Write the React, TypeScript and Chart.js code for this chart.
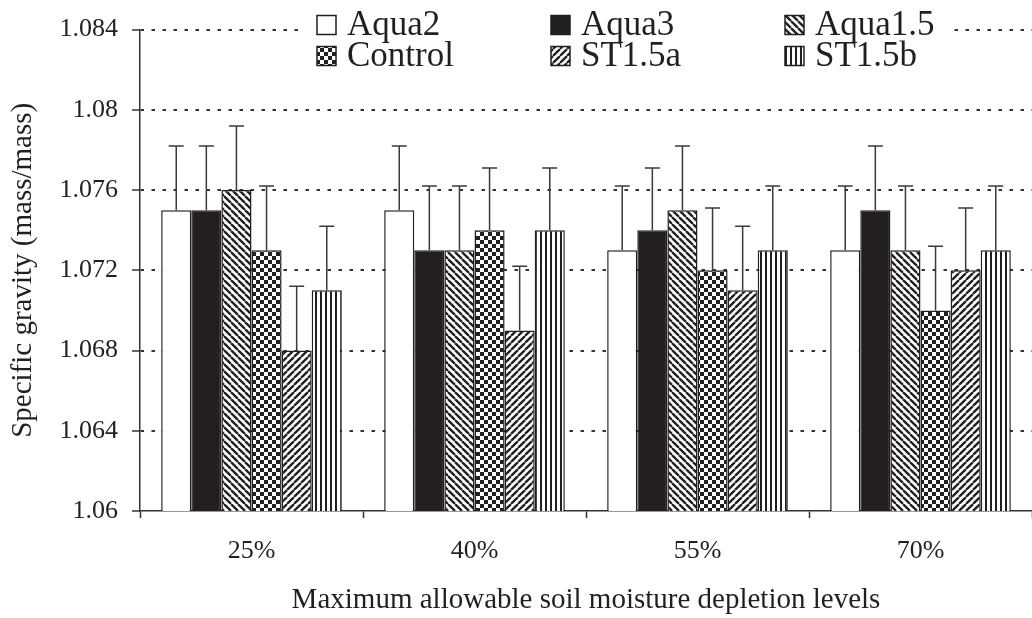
import React, { useEffect, useRef } from 'react';
import { Chart, registerables } from 'chart.js';

Chart.register(...registerables);

const categories = ['25%', '40%', '55%', '70%'];
const seriesNames = ['Aqua2', 'Aqua3', 'Aqua1.5', 'Control', 'ST1.5a', 'ST1.5b'];
const seriesFills = ['white', 'black', 'backslash', 'checker', 'slash', 'vertical'];

const aqua2 = [1.075, 1.075, 1.073, 1.073];
const aqua3 = [1.075, 1.073, 1.074, 1.075];
const aqua15 = [1.076, 1.073, 1.075, 1.073];
const control = [1.073, 1.074, 1.072, 1.07];
const st15a = [1.068, 1.069, 1.071, 1.072];
const st15b = [1.071, 1.074, 1.073, 1.073];

const aqua2Err = [0.0032, 0.0032, 0.0032, 0.0032];
const aqua3Err = [0.0032, 0.0032, 0.0031, 0.0032];
const aqua15Err = [0.0032, 0.0032, 0.0032, 0.0032];
const controlErr = [0.0032, 0.0031, 0.0031, 0.0032];
const st15aErr = [0.0032, 0.0032, 0.0032, 0.0031];
const st15bErr = [0.0032, 0.0031, 0.0032, 0.0032];

const yTickLabels = ['1.06', '1.064', '1.068', '1.072', '1.076', '1.08', '1.084'];
const xTitle = 'Maximum allowable soil moisture depletion levels';
const yTitle = 'Specific gravity (mass/mass)';

const seriesValues = [aqua2, aqua3, aqua15, control, st15a, st15b];
const seriesErrors = [aqua2Err, aqua3Err, aqua15Err, controlErr, st15aErr, st15bErr];

const INK = '#231f20';
const FONT = "'Liberation Serif', 'Times New Roman', serif";

function makeFill(kind: string): any {
  if (kind === 'white') return '#ffffff';
  if (kind === 'black') return INK;
  const c = document.createElement('canvas');
  const ctx = c.getContext('2d') as CanvasRenderingContext2D;
  if (kind === 'backslash' || kind === 'slash') {
    const s = 7;
    c.width = s;
    c.height = s;
    ctx.fillStyle = '#fff';
    ctx.fillRect(0, 0, s, s);
    ctx.strokeStyle = INK;
    ctx.lineWidth = 2.3;
    ctx.beginPath();
    for (let k = -1; k <= 1; k++) {
      if (kind === 'backslash') {
        ctx.moveTo(k * s, 0);
        ctx.lineTo(k * s + s, s);
      } else {
        ctx.moveTo(k * s, s);
        ctx.lineTo(k * s + s, 0);
      }
    }
    ctx.stroke();
  } else if (kind === 'checker') {
    const s = 8;
    c.width = s;
    c.height = s;
    ctx.fillStyle = '#fff';
    ctx.fillRect(0, 0, s, s);
    ctx.fillStyle = INK;
    ctx.fillRect(0, 0, 4, 4);
    ctx.fillRect(4, 4, 4, 4);
  } else {
    c.width = 5;
    c.height = 5;
    ctx.fillStyle = '#fff';
    ctx.fillRect(0, 0, 5, 5);
    ctx.fillStyle = INK;
    ctx.fillRect(0, 0, 2, 5);
  }
  return ctx.createPattern(c, 'repeat');
}

const errorBarPlugin = {
  id: 'errorBars',
  afterDatasetsDraw(chart: any) {
    const ctx = chart.ctx;
    const yScale = chart.scales.y;
    chart.data.datasets.forEach((ds: any, di: number) => {
      const meta = chart.getDatasetMeta(di);
      meta.data.forEach((bar: any, i: number) => {
        const v = ds.data[i];
        const top = yScale.getPixelForValue(v + ds.errors[i]);
        ctx.save();
        ctx.strokeStyle = '#3a3a3a';
        ctx.lineWidth = 1.5;
        ctx.beginPath();
        ctx.moveTo(bar.x, bar.y);
        ctx.lineTo(bar.x, top);
        ctx.moveTo(bar.x - 7.5, top);
        ctx.lineTo(bar.x + 7.5, top);
        ctx.stroke();
        ctx.restore();
      });
    });
  },
};

const legendPlugin = {
  id: 'patternLegend',
  afterDraw(chart: any) {
    const ctx = chart.ctx;
    ctx.save();
    ctx.fillStyle = '#ffffff';
    ctx.fillRect(302, 4, 646, 74);
    const cols = [317, 551, 785];
    const rows = [25, 56];
    chart.data.datasets.forEach((ds: any, i: number) => {
      const x = cols[i % 3];
      const yc = rows[Math.floor(i / 3)];
      ctx.fillStyle = ds.backgroundColor;
      ctx.fillRect(x, yc - 9.5, 19, 19);
      ctx.strokeStyle = INK;
      ctx.lineWidth = 1.5;
      ctx.strokeRect(x, yc - 9.5, 19, 19);
      ctx.fillStyle = INK;
      ctx.font = `35px ${FONT}`;
      ctx.textBaseline = 'middle';
      ctx.textAlign = 'left';
      ctx.fillText(ds.label, x + 30, yc + 1);
    });
    ctx.restore();
  },
};

export default function App() {
  const ref = useRef<HTMLCanvasElement>(null);

  useEffect(() => {
    const canvas = ref.current as HTMLCanvasElement;
    const datasets = seriesNames.map((name, i) => ({
      label: name,
      data: seriesValues[i],
      errors: seriesErrors[i],
      backgroundColor: makeFill(seriesFills[i]),
      borderColor: INK,
      borderWidth: 1.5,
      barPercentage: 1,
      categoryPercentage: 0.81,
    }));
    const chart = new Chart(canvas, {
      type: 'bar',
      data: { labels: categories, datasets: datasets as any },
      options: {
        animation: false,
        responsive: false,
        maintainAspectRatio: false,
        layout: { padding: { top: 23, left: 0, right: 0, bottom: 0 } },
        plugins: {
          legend: { display: false },
          tooltip: { enabled: false },
        },
        scales: {
          x: {
            type: 'category',
            offset: true,
            grid: {
              display: true,
              drawOnChartArea: false,
              drawTicks: true,
              tickLength: 7,
              offset: true,
              color: '#333',
              tickColor: '#333',
              tickWidth: 1.5,
            },
            border: { display: true, color: '#333', width: 1.5 },
            ticks: { color: INK, font: { family: FONT, size: 26 }, padding: 18, maxRotation: 0 },
            title: {
              display: true,
              text: xTitle,
              color: INK,
              font: { family: FONT, size: 29 },
              padding: { top: 0, bottom: 0 },
            },
            afterFit: (s: any) => {
              s.height = 107;
            },
          } as any,
          y: {
            min: 1.06,
            max: 1.084,
            ticks: {
              stepSize: 0.004,
              callback: (_v: any, i: number) => yTickLabels[i],
              color: INK,
              font: { family: FONT, size: 26 },
              padding: 14,
            },
            grid: {
              color: (c: any) => (c.index === 0 ? 'rgba(0,0,0,0)' : '#333'),
              lineWidth: 2,
              tickColor: '#333',
              tickLength: 8,
              tickWidth: 1.5,
            },
            border: { display: true, color: '#333', width: 1.5, dash: [3.5, 7.5] },
            title: {
              display: true,
              text: yTitle,
              color: INK,
              font: { family: FONT, size: 29 },
              padding: { top: 6, bottom: 0 },
            },
            afterFit: (s: any) => {
              s.width = 140;
            },
          } as any,
        },
      },
      plugins: [errorBarPlugin, legendPlugin],
    });
    return () => chart.destroy();
  }, []);

  return (
    <div style={{ position: 'fixed', left: 0, top: 0, width: 1032, height: 618, background: '#fff' }}>
      <canvas ref={ref} width={1032} height={618} style={{ display: 'block', width: 1032, height: 618 }} />
    </div>
  );
}
